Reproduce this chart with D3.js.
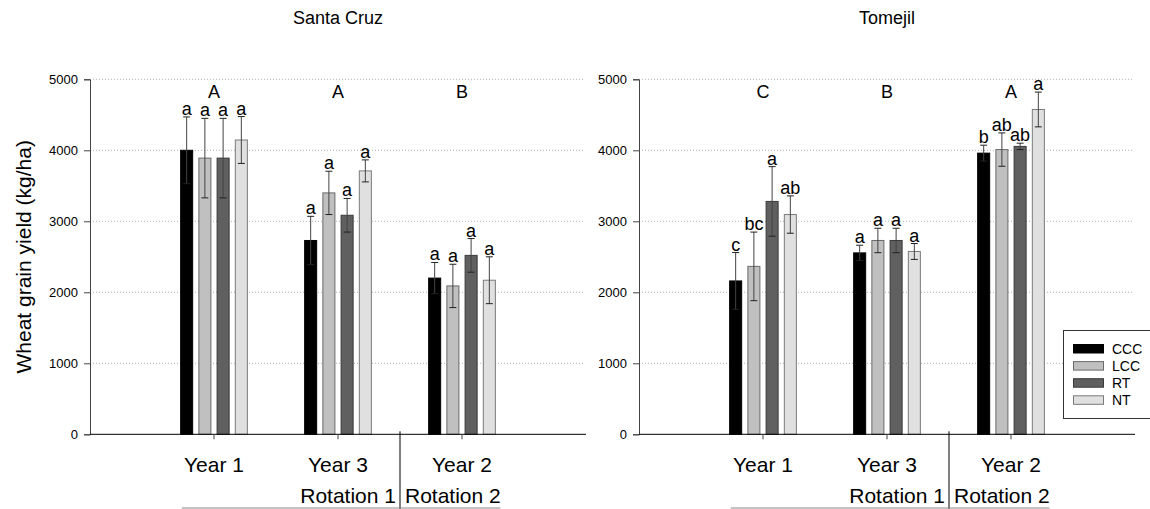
<!DOCTYPE html>
<html>
<head>
<meta charset="utf-8">
<script src="https://cdn.jsdelivr.net/npm/d3@7"></script>
<style>
  html, body { margin: 0; padding: 0; background: #fff; }
  svg { display: block; font-family: "Liberation Sans", Arial, Helvetica, sans-serif; }
</style>
</head>
<body>
<svg id="chart" width="1150" height="509"></svg>
<script>
// Wheat grain yield by tillage treatment at two sites
const categories = ["Year 1", "Year 3", "Year 2"];
const treatments = ["CCC", "LCC", "RT", "NT"];
const yTicks = [0, 1000, 2000, 3000, 4000, 5000];

// Santa Cruz
const santaCruzMeans = [
  [4000, 2730, 2200],   // CCC
  [3890, 3400, 2090],   // LCC
  [3890, 3085, 2520],   // RT
  [4145, 3710, 2170]    // NT
];
const santaCruzErrors = [
  [470, 340, 220],
  [560, 305, 305],
  [560, 237, 237],
  [330, 155, 330]
];
const santaCruzLetters = [
  ["a", "a", "a"],
  ["a", "a", "a"],
  ["a", "a", "a"],
  ["a", "a", "a"]
];
const santaCruzGroups = ["A", "A", "B"];

// Tomejil
const tomejilMeans = [
  [2160, 2555, 3960],
  [2365, 2730, 4010],
  [3280, 2730, 4055],
  [3095, 2575, 4575]
];
const tomejilErrors = [
  [400, 108, 112],
  [483, 172, 235],
  [490, 172, 45],
  [263, 112, 245]
];
const tomejilLetters = [
  ["c", "a", "b"],
  ["bc", "a", "ab"],
  ["a", "a", "ab"],
  ["ab", "a", "a"]
];
const tomejilGroups = ["C", "B", "A"];

const fills = ["#000000", "#c0c0c0", "#606060", "#e0e0e0"];
const strokes = ["#000000", "#6a6a6a", "#3a3a3a", "#7a7a7a"];

const svg = d3.select("#chart");
const plotTop = 79.3, plotBottom = 434.3;
const y = d3.scaleLinear().domain([0, 5000]).range([plotBottom, plotTop]);

const barPitch = 0.147;   // spacing between bars in category units
const barWidth = 0.097;   // bar width in category units

function drawPanel(opts) {
  const { x0, x1, title, means, errors, letters, groups } = opts;
  const x = d3.scaleLinear().domain([0, 4]).range([x0, x1]);
  const g = svg.append("g");

  // dotted grid
  g.append("g").selectAll("line").data(yTicks.filter(d => d > 0)).join("line")
    .attr("x1", x0).attr("x2", x1 - 2)
    .attr("y1", d => y(d)).attr("y2", d => y(d))
    .attr("stroke", "#b0b0b0").attr("stroke-width", 1)
    .attr("stroke-dasharray", "1,2");

  // y axis
  const yAxis = d3.axisLeft(y).tickValues(yTicks).tickSize(6).tickPadding(6).tickFormat(d3.format("d"));
  const ya = g.append("g").attr("transform", `translate(${x0},0)`).call(yAxis);
  ya.select(".domain").attr("stroke", "#444");
  ya.selectAll(".tick line").attr("stroke", "#444");
  ya.selectAll(".tick text").attr("font-size", 13).attr("fill", "#000")
    .attr("font-family", "Liberation Sans, Arial, sans-serif");

  // bars
  const bw = x(barWidth) - x(0);
  const recs = [];
  treatments.forEach((t, s) => {
    categories.forEach((c, i) => {
      recs.push({ s, i, v: means[s][i], e: errors[s][i], l: letters[s][i],
                  cx: x(i + 1 + (s - 1.5) * barPitch) });
    });
  });

  g.append("g").selectAll("rect").data(recs).join("rect")
    .attr("x", d => d.cx - bw / 2).attr("width", bw)
    .attr("y", d => y(d.v)).attr("height", d => y(0) - y(d.v))
    .attr("fill", d => fills[d.s]).attr("stroke", d => strokes[d.s]).attr("stroke-width", 1);

  // error bars
  const eb = g.append("g").attr("stroke", "#222").attr("stroke-width", 1);
  recs.forEach(d => {
    const cap = 3.5;
    eb.append("line").attr("x1", d.cx).attr("x2", d.cx)
      .attr("y1", y(d.v + d.e)).attr("y2", y(d.v - d.e)).attr("stroke", "#444");
    eb.append("line").attr("x1", d.cx - cap).attr("x2", d.cx + cap)
      .attr("y1", y(d.v + d.e)).attr("y2", y(d.v + d.e));
    eb.append("line").attr("x1", d.cx - cap).attr("x2", d.cx + cap)
      .attr("y1", y(d.v - d.e)).attr("y2", y(d.v - d.e));
  });

  // treatment letters
  g.append("g").selectAll("text").data(recs).join("text")
    .attr("x", d => d.cx).attr("y", d => y(d.v + d.e) - 2)
    .attr("text-anchor", "middle").attr("font-size", 18).attr("fill", "#000")
    .text(d => d.l);

  // year group letters
  g.append("g").selectAll("text").data(groups).join("text")
    .attr("x", (d, i) => x(i + 1)).attr("y", 98)
    .attr("text-anchor", "middle").attr("font-size", 18).attr("fill", "#000")
    .text(d => d);

  // x axis baseline and category ticks
  g.append("line").attr("x1", x0).attr("x2", x1).attr("y1", plotBottom).attr("y2", plotBottom)
    .attr("stroke", "#000").attr("stroke-width", 1);
  g.append("g").selectAll("line").data(categories).join("line")
    .attr("x1", (d, i) => x(i + 1)).attr("x2", (d, i) => x(i + 1))
    .attr("y1", plotBottom).attr("y2", plotBottom + 5).attr("stroke", "#444");

  // category labels
  g.append("g").selectAll("text").data(categories).join("text")
    .attr("x", (d, i) => x(i + 1)).attr("y", 472)
    .attr("text-anchor", "middle").attr("font-size", 21).attr("fill", "#000")
    .text(d => d);

  // rotation divider
  const sep = x(2.5);
  g.append("line").attr("x1", sep).attr("x2", sep).attr("y1", plotBottom - 3).attr("y2", 509)
    .attr("stroke", "#000").attr("stroke-width", 1);
  g.append("line").attr("x1", x(0.74)).attr("x2", x(3.31)).attr("y1", 508).attr("y2", 508)
    .attr("stroke", "#888").attr("stroke-width", 1);
  g.append("text").attr("x", sep - 4).attr("y", 503).attr("text-anchor", "end")
    .attr("font-size", 21).text("Rotation 1");
  g.append("text").attr("x", sep + 5).attr("y", 503).attr("text-anchor", "start")
    .attr("font-size", 21).text("Rotation 2");

  // panel title
  svg.append("text").attr("x", (x0 + x1) / 2).attr("y", 24)
    .attr("text-anchor", "middle").attr("font-size", 18).text(title);
}

drawPanel({ x0: 90, x1: 586, title: "Santa Cruz",
  means: santaCruzMeans, errors: santaCruzErrors, letters: santaCruzLetters, groups: santaCruzGroups });
drawPanel({ x0: 639, x1: 1135, title: "Tomejil",
  means: tomejilMeans, errors: tomejilErrors, letters: tomejilLetters, groups: tomejilGroups });

// y axis title
svg.append("text")
  .attr("transform", `translate(31,${(plotTop + plotBottom) / 2}) rotate(-90)`)
  .attr("text-anchor", "middle").attr("font-size", 21)
  .text("Wheat grain yield (kg/ha)");

// legend
const legend = svg.append("g");
legend.append("rect").attr("x", 1063.5).attr("y", 330.5).attr("width", 100).attr("height", 88)
  .attr("fill", "#fff").attr("stroke", "#333").attr("stroke-width", 1);
const items = legend.selectAll("g.item").data(treatments).join("g").attr("class", "item")
  .attr("transform", (d, i) => `translate(1073,${344 + i * 17.1})`);
items.append("rect").attr("x", 0.5).attr("y", 0.5).attr("width", 30).attr("height", 8.5)
  .attr("fill", (d, i) => fills[i]).attr("stroke", (d, i) => strokes[i]);
items.append("text").attr("x", 39).attr("y", 9.5).attr("font-size", 14).text(d => d);
</script>
</body>
</html>
